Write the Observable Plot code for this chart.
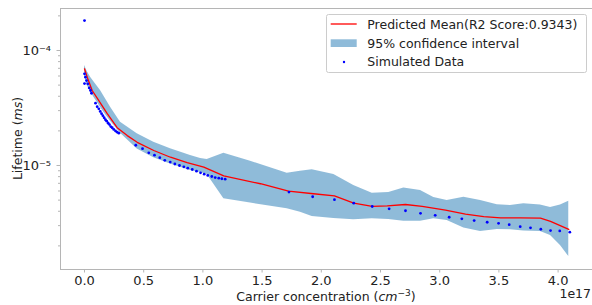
<!DOCTYPE html>
<html><head><meta charset="utf-8">
<script src="https://cdn.jsdelivr.net/npm/d3@7"></script>
<script src="https://cdn.jsdelivr.net/npm/@observablehq/plot@0.6"></script>
<style>
html,body{margin:0;padding:0;background:#fff;}
</style>
</head><body>
<div id="chart"></div>
<script>
// Simulated data (x in units of 1e17 cm^-3, lifetime in ms)
const simX = [0.0, 0.0, 0.0, 0.008, 0.017, 0.028, 0.040, 0.051, 0.059, 0.093, 0.107, 0.121, 0.133, 0.144, 0.155, 0.166, 0.177, 0.188, 0.200, 0.211, 0.222, 0.234, 0.247, 0.262, 0.276, 0.290, 0.433, 0.490, 0.543, 0.591, 0.636, 0.678, 0.724, 0.763, 0.802, 0.839, 0.872, 0.910, 0.946, 0.980, 1.011, 1.041, 1.075, 1.104, 1.134, 1.160, 1.188, 1.727, 1.927, 2.111, 2.274, 2.430, 2.573, 2.711, 2.838, 2.962, 3.080, 3.187, 3.291, 3.401, 3.497, 3.587, 3.680, 3.767, 3.854, 3.936, 4.014, 4.099];
const simY = [1.82e-4, 6.27e-5, 5.16e-5, 5.86e-5, 5.48e-5, 5.13e-5, 4.73e-5, 4.49e-5, 4.25e-5, 3.48e-5, 3.25e-5, 3.11e-5, 2.95e-5, 2.82e-5, 2.71e-5, 2.60e-5, 2.50e-5, 2.43e-5, 2.33e-5, 2.27e-5, 2.18e-5, 2.13e-5, 2.06e-5, 2.00e-5, 1.95e-5, 1.91e-5, 1.50e-5, 1.40e-5, 1.29e-5, 1.23e-5, 1.17e-5, 1.11e-5, 1.07e-5, 1.03e-5, 1.00e-5, 9.74e-6, 9.47e-6, 9.23e-6, 8.92e-6, 8.64e-6, 8.41e-6, 8.19e-6, 8.02e-6, 7.86e-6, 7.76e-6, 7.67e-6, 7.60e-6, 5.87e-6, 5.35e-6, 5.04e-6, 4.70e-6, 4.40e-6, 4.20e-6, 4.04e-6, 3.84e-6, 3.69e-6, 3.55e-6, 3.44e-6, 3.32e-6, 3.21e-6, 3.14e-6, 3.06e-6, 2.94e-6, 2.87e-6, 2.79e-6, 2.72e-6, 2.70e-6, 2.63e-6];

// Predicted mean
const meanX = [0.0, 0.023, 0.065, 0.121, 0.192, 0.276, 0.361, 0.445, 0.585, 0.726, 0.867, 1.008, 1.176, 1.486, 1.723, 1.934, 2.111, 2.274, 2.430, 2.557, 2.711, 2.852, 3.049, 3.218, 3.372, 3.514, 3.682, 3.851, 3.936, 4.09];
const meanY = [6.93e-5, 5.86e-5, 4.49e-5, 3.67e-5, 2.82e-5, 2.13e-5, 1.82e-5, 1.59e-5, 1.35e-5, 1.18e-5, 1.06e-5, 9.67e-6, 8.11e-6, 6.94e-6, 5.99e-6, 5.68e-6, 5.44e-6, 4.70e-6, 4.42e-6, 4.46e-6, 4.58e-6, 4.42e-6, 4.10e-6, 3.78e-6, 3.60e-6, 3.51e-6, 3.51e-6, 3.49e-6, 3.27e-6, 2.78e-6];

// 95% confidence interval
const bandX  = [0.0, 0.023, 0.051, 0.079, 0.135, 0.163, 0.220, 0.304, 0.445, 0.585, 0.726, 0.895, 0.980, 1.036, 1.177, 1.402, 1.712, 1.824, 1.923, 2.106, 2.274, 2.430, 2.570, 2.697, 2.838, 2.950, 3.063, 3.204, 3.345, 3.486, 3.598, 3.710, 3.851, 3.936, 4.020, 4.090];
const bandLo = [6.06e-5, 4.96e-5, 4.41e-5, 3.93e-5, 3.21e-5, 2.91e-5, 2.43e-5, 1.91e-5, 1.39e-5, 1.17e-5, 1.03e-5, 9.05e-6, 8.70e-6, 8.35e-6, 5.13e-6, 4.72e-6, 4.20e-6, 3.93e-6, 3.60e-6, 3.46e-6, 3.37e-6, 3.44e-6, 3.39e-6, 3.28e-6, 3.28e-6, 3.44e-6, 3.32e-6, 2.86e-6, 2.67e-6, 2.78e-6, 2.76e-6, 2.69e-6, 2.67e-6, 2.46e-6, 2.02e-6, 1.62e-6];
const bandHi = [7.41e-5, 6.58e-5, 5.86e-5, 5.36e-5, 4.49e-5, 4.02e-5, 3.21e-5, 2.38e-5, 1.89e-5, 1.59e-5, 1.40e-5, 1.22e-5, 1.15e-5, 1.13e-5, 1.28e-5, 1.09e-5, 8.58e-6, 8.92e-6, 9.18e-6, 8.35e-6, 6.70e-6, 5.74e-6, 5.82e-6, 6.37e-6, 6.06e-6, 5.27e-6, 4.96e-6, 5.30e-6, 4.96e-6, 4.55e-6, 4.49e-6, 4.64e-6, 4.53e-6, 4.31e-6, 4.53e-6, 4.89e-6];

// Ticks
const xTicks = [0, 0.5, 1.0, 1.5, 2.0, 2.5, 3.0, 3.5, 4.0];
const yTicks = [1e-5, 1e-4];
const yMinor = [2e-6,3e-6,4e-6,5e-6,6e-6,7e-6,8e-6,9e-6,2e-5,3e-5,4e-5,5e-5,6e-5,7e-5,8e-5,9e-5,2e-4];
const xDomain = [-0.2027, 4.2905];
const yDomain = [1.2465e-6, 2.318e-4];

const legendLabels = ["Predicted Mean(R2 Score:0.9343)", "95% confidence interval", "Simulated Data"];

const sim = simX.map((x, i) => ({x, y: simY[i]}));
const mean = meanX.map((x, i) => ({x, y: meanY[i]}));
const band = bandX.map((x, i) => ({x, lo: bandLo[i], hi: bandHi[i]}));

const supMap = {"-":"\u207B","0":"\u2070","1":"\u00B9","2":"\u00B2","3":"\u00B3","4":"\u2074","5":"\u2075","6":"\u2076","7":"\u2077","8":"\u2078","9":"\u2079"};
const sup = s => String(s).split("").map(c => supMap[c]).join("");

const spine = "#b5b5b5";
const FONT = "DejaVu Sans";

const chart = Plot.plot({
  width: 592, height: 305,
  marginLeft: 60, marginRight: 0, marginTop: 8, marginBottom: 36,
  style: {fontFamily: FONT, fontSize: "12.5px", color: "#222", background: "#fff"},
  x: {domain: xDomain, label: null},
  y: {type: "log", domain: yDomain, label: null},
  marks: [
    Plot.areaY(band, {x: "x", y1: "lo", y2: "hi", fill: "#1f77b4", fillOpacity: 0.5}),
    Plot.line(mean, {x: "x", y: "y", stroke: "red", strokeWidth: 1.3}),
    Plot.dot(sim, {x: "x", y: "y", r: 1.4, fill: "blue", stroke: "none"}),
    Plot.ruleX([xDomain[0]], {stroke: spine, strokeWidth: 1}),
    Plot.ruleY([yDomain[0], yDomain[1]], {stroke: spine, strokeWidth: 1}),
    Plot.axisX(xTicks, {tickSize: 3.5, tickPadding: 2.5, stroke: spine, tickFormat: d3.format(".1f"), fill: "#222", fontSize: 13}),
    Plot.axisY(yTicks, {tickSize: 3.5, tickPadding: 6, stroke: spine, tickFormat: d => "10" + sup(Math.round(Math.log10(d))), fill: "#222", fontSize: 13}),
    Plot.axisY(yMinor, {tickSize: 2, stroke: spine, tickFormat: () => ""})
  ]
});

document.getElementById("chart").appendChild(chart);

// Titles / legend as real SVG text
const svg = d3.select(chart);
const g = svg.append("g").attr("font-family", FONT).attr("font-size", 12.5).attr("fill", "#222");

// y label
const yl = g.append("text").attr("transform", "translate(21.5,138.5) rotate(-90)").attr("text-anchor", "middle");
yl.append("tspan").text("Lifetime (");
yl.append("tspan").attr("font-style", "italic").text("ms");
yl.append("tspan").text(")");

// x label
const xl = g.append("text").attr("x", 326).attr("y", 300.5).attr("text-anchor", "middle");
xl.append("tspan").text("Carrier concentration (");
xl.append("tspan").attr("font-style", "italic").text("cm");
xl.append("tspan").attr("font-size", 9).attr("dy", -5).text("\u22123");
xl.append("tspan").attr("dy", 5).text(")");

// offset label
g.append("text").attr("x", 591).attr("y", 297.5).attr("text-anchor", "end").text("1e17");

// legend
const lg = svg.append("g").attr("font-family", FONT).attr("font-size", 12.5).attr("fill", "#222").attr("text-anchor", "start");
lg.append("rect").attr("x", 326.5).attr("y", 14.5).attr("width", 260).attr("height", 58).attr("rx", 2)
  .attr("fill", "#fff").attr("fill-opacity", 0.8).attr("stroke", "#cccccc").attr("stroke-width", 1);
lg.append("line").attr("x1", 330.7).attr("x2", 356.7).attr("y1", 24).attr("y2", 24).attr("stroke", "red").attr("stroke-width", 1.3);
lg.append("rect").attr("x", 330.7).attr("y", 39.3).attr("width", 26).attr("height", 7.7).attr("fill", "#1f77b4").attr("fill-opacity", 0.5);
lg.append("circle").attr("cx", 344).attr("cy", 62).attr("r", 1.2).attr("fill", "blue");
legendLabels.forEach((t, i) => {
  lg.append("text").attr("x", 367.3).attr("y", [29.4, 47.7, 66.2][i]).attr("text-anchor", "start").text(t);
});
</script>
</body></html>
